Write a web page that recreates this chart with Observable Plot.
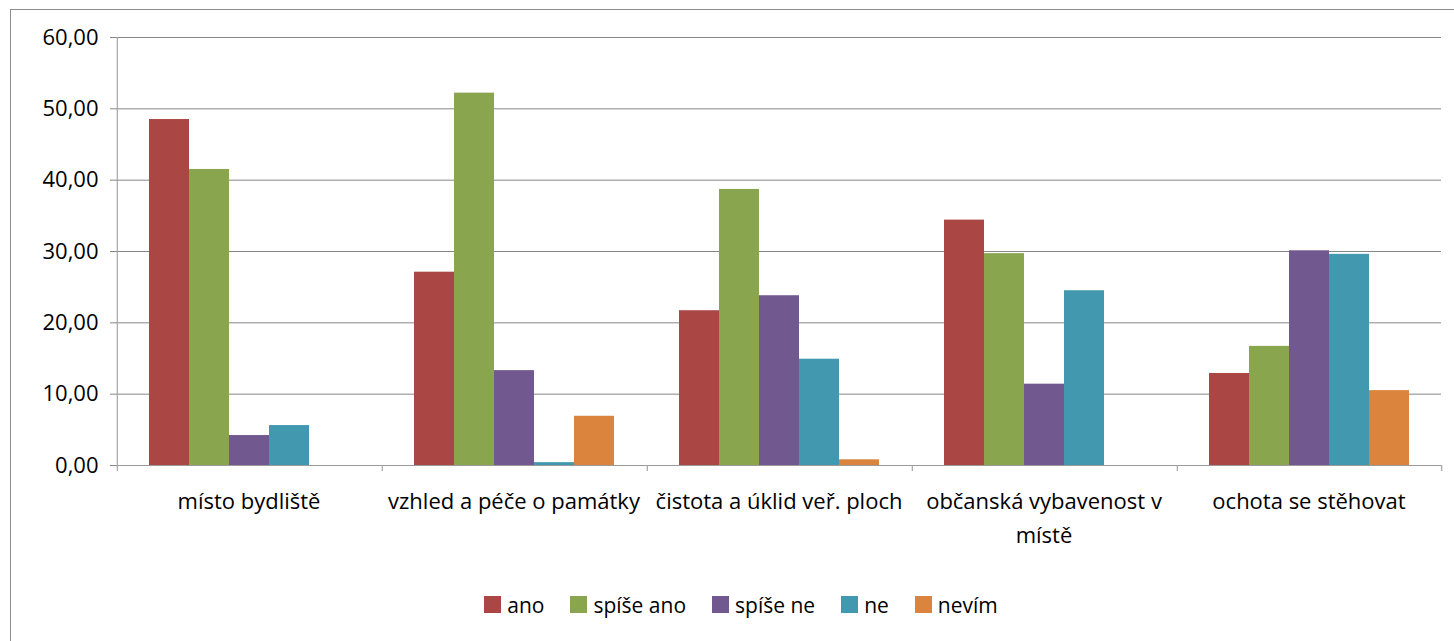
<!DOCTYPE html>
<html>
<head>
<meta charset="utf-8">
<script src="https://cdn.jsdelivr.net/npm/d3@7"></script>
<script src="https://cdn.jsdelivr.net/npm/@observablehq/plot@0.6"></script>
<style>
  html, body { margin: 0; padding: 0; background: #fff; }
  #wrap { position: relative; width: 1454px; height: 641px; overflow: hidden; font-family: "Open Sans", sans-serif; }
  #border { position: absolute; left: 10px; top: 9px; width: 3000px; height: 3000px;
            border-top: 1.5px solid #8c8c8c; border-left: 1.5px solid #8c8c8c; pointer-events: none; }
  .lg-swatches { justify-content: center; padding-left: 54px; margin-top: 8px; font-family: "Open Sans", sans-serif; font-size: 21px; color: #000; }
  .lg-swatch { margin-right: 26px !important; }
  .lg-swatch > svg { margin-right: 6px !important; }
</style>
</head>
<body>
<div id="wrap"><div id="border"></div></div>
<script>
const categories = ["místo bydliště", "vzhled a péče o památky", "čistota a úklid veř. ploch", "občanská vybavenost v místě", "ochota se stěhovat"];
const seriesNames = ["ano", "spíše ano", "spíše ne", "ne", "nevím"];
const ano      = [48.5, 27.1, 21.7, 34.4, 12.9];
const spiseAno = [41.5, 52.2, 38.7, 29.7, 16.7];
const spiseNe  = [4.2, 13.3, 23.8, 11.4, 30.1];
const ne       = [5.6, 0.4, 14.9, 24.5, 29.6];
const nevim    = [0, 6.9, 0.8, 0, 10.5];
const colors = ["#AA4643", "#89A54E", "#71588F", "#4198AF", "#DB843D"];
const yTicks = [0, 10, 20, 30, 40, 50, 60];
const labelLines = {"občanská vybavenost v místě": "občanská vybavenost v\nmístě"};

const seriesValues = [ano, spiseAno, spiseNe, ne, nevim];
const data = [];
categories.forEach((c, i) => seriesNames.forEach((s, j) => data.push({category: c, series: s, value: seriesValues[j][i]})));

const W = 1454, H = 580, mL = 116, mR = 13, mT = 37, mB = 115;
const padOuter = 0.8;
const facetW = (W - mL - mR) / categories.length;
const step = facetW / (seriesNames.length + 2 * padOuter);
const bandOffset = padOuter * step + step / 2;

const firstOfFacet = data.filter(d => d.series === seriesNames[0]);
const lastOne = data.filter(d => d.series === seriesNames[seriesNames.length - 1] && d.category === categories[categories.length - 1]);
const axisLine = data.filter(d => d.series === seriesNames[0] && d.category === categories[0]);

const fmt = d => d.toFixed(2).replace(".", ",");

const chart = Plot.plot({
  width: W, height: H,
  marginLeft: mL, marginRight: mR, marginTop: mT, marginBottom: mB,
  style: {fontFamily: "Open Sans, sans-serif", fontSize: "22px", color: "#000", background: "white", overflow: "visible"},
  fx: {domain: categories, padding: 0, axis: null},
  x: {domain: seriesNames, paddingInner: 0, paddingOuter: padOuter, axis: null},
  y: {domain: [0, 60], axis: null},
  color: {domain: seriesNames, range: colors},
  marks: [
    Plot.gridY(yTicks, {stroke: "#868686", strokeOpacity: 1, strokeWidth: 1}),
    Plot.barY(data, {fx: "category", x: "series", y: "value", fill: "series"}),
    Plot.ruleY([0], {stroke: "#9a9a9a", strokeWidth: 1.2}),
    Plot.ruleX(axisLine, {fx: "category", x: "series", y1: 0, y2: 60, dx: -bandOffset, stroke: "#a6a6a6", strokeWidth: 1.2}),
    Plot.ruleX(firstOfFacet, {fx: "category", x: "series", y1: 0, y2: 0, insetBottom: -6, dx: -bandOffset, stroke: "#a6a6a6", strokeWidth: 1.2}),
    Plot.ruleX(lastOne, {fx: "category", x: "series", y1: 0, y2: 0, insetBottom: -6, dx: bandOffset, stroke: "#a6a6a6", strokeWidth: 1.2}),
    Plot.axisY({ticks: yTicks, tickSize: 6, tickPadding: 12, tickFormat: fmt, label: null, fontSize: 22, stroke: "#868686"}),
    Plot.axisFx({anchor: "bottom", tickSize: 0, tickPadding: 19, label: null, fontSize: 22, lineHeight: 1.55,
                 tickFormat: d => labelLines[d] ?? d})
  ]
});

const wrap = document.getElementById("wrap");
wrap.insertBefore(chart, wrap.firstChild);
const legend = Plot.legend({color: {domain: seriesNames, range: colors}, legend: "swatches", swatchSize: 17, className: "lg"});
wrap.insertBefore(legend, document.getElementById("border"));
</script>
</body>
</html>
